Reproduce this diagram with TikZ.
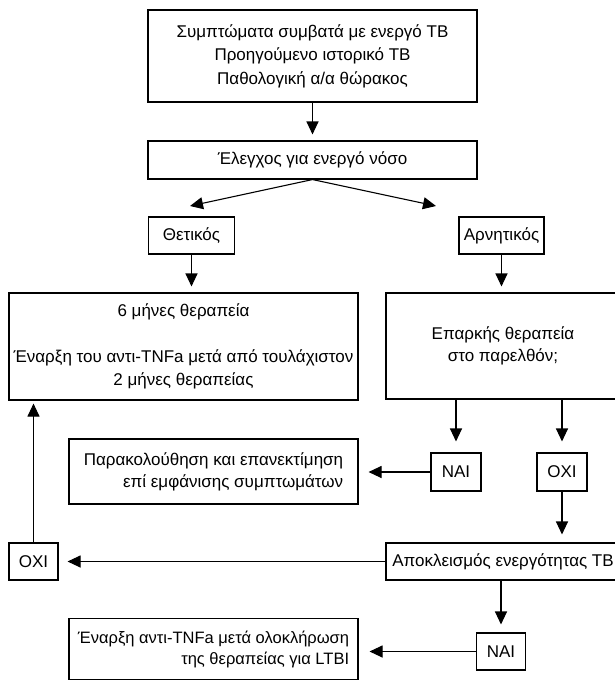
\documentclass[tikz,border=0pt]{standalone}
\usepackage{fontspec}
\setmainfont{Liberation Sans}
\usetikzlibrary{arrows.meta}

\begin{document}
\begin{tikzpicture}[x=1pt, y=-1pt,
    box/.style={draw, line width=1.1pt, inner sep=0pt, align=center,
        font=\fontsize{17}{22}\selectfont},
    sidebox/.style={box, align=right, minimum width=289pt},
    arr/.style={line width=1.1pt, -{Triangle[width=12pt,length=13pt]}}]

    \useasboundingbox (0,0) rectangle (615,681);

    \node[box, minimum width=329pt, minimum height=92pt, font=\fontsize{17}{23.5}\selectfont]
        (sympt) at (312.5,56)
        {Συμπτώματα συμβατά με ενεργό TB\\ Προηγούμενο ιστορικό TB\\ Παθολογική α/α θώρακος};
    \node[box, minimum width=329pt, minimum height=38pt] (check) at (312.5,160)
        {Έλεγχος για ενεργό νόσο};

    \node[box, minimum width=86.5pt, minimum height=37pt] (pos) at (191.5,235.5) {Θετικός};
    \node[box, minimum width=85pt, minimum height=37pt] (neg) at (501.5,235.5) {Αρνητικός};
    \coordinate (checkL) at (190,206);
    \coordinate (checkR) at (436,206);

    \node[box, minimum width=349pt, minimum height=107pt, font=\fontsize{17}{23}\selectfont]
        (six) at (183.5,346.5)
        {6 μήνες θεραπεία\\ \\ Έναρξη του αντι-TNFa μετά από τουλάχιστον\\ 2 μήνες θεραπείας};
    \node[box, minimum width=234pt, minimum height=106pt] (adeq) at (503,346)
        {Επαρκής θεραπεία\\ στο παρελθόν;};

    \node[box, minimum width=50pt, minimum height=38pt] (yes) at (456,472) {ΝΑΙ};
    \node[box, minimum width=50pt, minimum height=38pt] (no) at (562,472) {ΟΧΙ};
    \node[sidebox, minimum height=65pt] (follow) at (213.5,471.5)
        {Παρακολούθηση και επανεκτίμηση\\ επί εμφάνισης συμπτωμάτων};

    \node[box, minimum width=234pt, minimum height=37pt] (excl) at (503,561.5)
        {Αποκλεισμός ενεργότητας TB};
    \node[box, minimum width=49pt, minimum height=37pt] (noex) at (33.5,561.5) {ΟΧΙ};

    \node[box, minimum width=49pt, minimum height=37pt] (yesex) at (501,651.5) {ΝΑΙ};
    \node[sidebox, minimum height=61pt, font=\fontsize{16.5}{21}\selectfont] (ltbi) at (213.5,649)
        {Έναρξη αντι-TNFa μετά ολοκλήρωση\\ της θεραπείας για LTBI};

    \draw[arr, shorten >=6pt] (sympt) -- (sympt.south |- check.north);
    \draw[arr] (check.south) -- (checkL);
    \draw[arr] (check.south) -- (checkR);

    \draw[arr, shorten >=6pt] (pos.south) -- (pos.south |- six.north);
    \draw[arr, shorten >=6pt] (neg.south) -- (neg.south |- adeq.north);

    \draw[arr, shorten >=11pt] (yes.north |- adeq.south) -- (yes.north);
    \draw[arr, shorten >=11pt] (no.north |- adeq.south) -- (no.north);
    \draw[arr, shorten >=10pt] (yes.west) -- (yes.west -| follow.east);
    \draw[arr, shorten >=8pt] (no.south) -- (no.south |- excl.north);

    \draw[arr, shorten >=9pt] (excl.west) -- (noex.east);
    \draw[arr, shorten >=3pt] (noex.north) -- (noex.north |- six.south);
    \draw[arr, shorten >=8pt] (yesex.north |- excl.south) -- (yesex.north);
    \draw[arr, shorten >=11pt] (yesex.west) -- (yesex.west -| ltbi.east);

\end{tikzpicture}
\end{document}
